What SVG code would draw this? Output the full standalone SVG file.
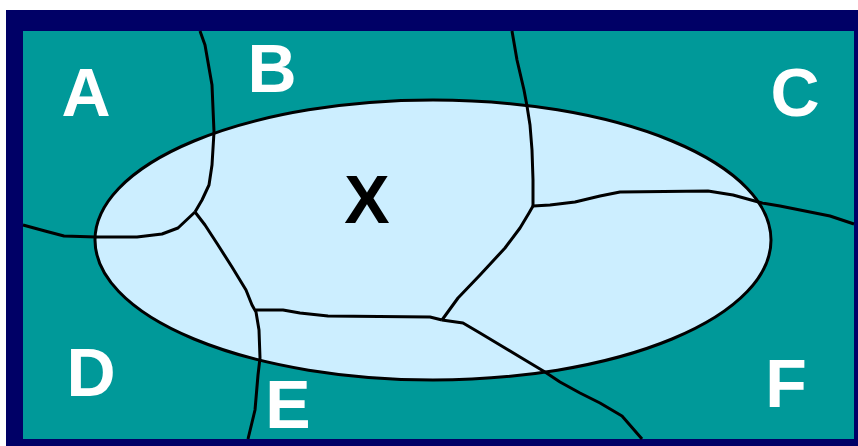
<svg xmlns="http://www.w3.org/2000/svg" width="858" height="446" viewBox="0 0 858 446">
<style>
.b{fill:none;stroke:#000;stroke-width:3;stroke-linejoin:round;stroke-linecap:butt}
.t{font-family:"Liberation Sans",Arial,sans-serif;font-weight:bold;font-size:68px;fill:#fff;text-anchor:middle}
</style>
<rect x="0" y="0" width="858" height="446" fill="#fff"/>
<rect x="6" y="10" width="852" height="436" fill="#000066"/>
<rect x="23" y="31" width="831" height="408" fill="#009999"/>
<ellipse id="region-x" cx="433" cy="240" rx="338" ry="140" fill="#CCEEFF" stroke="#000" stroke-width="3"/>
<g id="borders">
<path class="b" d="M200,31 L205,45 L212,85 L214,132 L212,165 L209,185 L202,200 L195,212"/>
<path class="b" d="M23,225 L45,231 L64,236 L96,237 L137,237 L162,234 L178,228 L195,212"/>
<path class="b" d="M195,212 L205,225 L218,245 L232,267 L246,290 L252,305 L256,312 L259,330 L260,358 L258,375 L255,410 L248,439"/>
<path class="b" d="M256,310 L283,310 L300,313 L328,316 L430,317 L442,320"/>
<path class="b" d="M442,320 L458,298 L480,275 L505,248 L520,228 L529,213 L533,206"/>
<path class="b" d="M512,31 L517,60 L524,90 L527,106 L530,125 L532,150 L533,180 L533,206"/>
<path class="b" d="M533,206 L550,205 L575,202 L600,196 L620,192 L708,191 L733,195 L762,203 L780,206 L800,210 L830,216 L854,224"/>
<path class="b" d="M442,320 L463,323 L480,333 L500,345 L520,357 L545,372 L560,382 L580,393 L600,403 L622,416 L642,439"/>
</g>
<g id="labels">
<text class="t" x="86" y="116">A</text>
<text class="t" x="272" y="92">B</text>
<text class="t" x="795" y="116">C</text>
<text class="t" x="91" y="396">D</text>
<text class="t" x="288" y="428">E</text>
<text class="t" x="786" y="407">F</text>
<text class="t" x="367" y="223" style="fill:#000">X</text>
</g>
</svg>
